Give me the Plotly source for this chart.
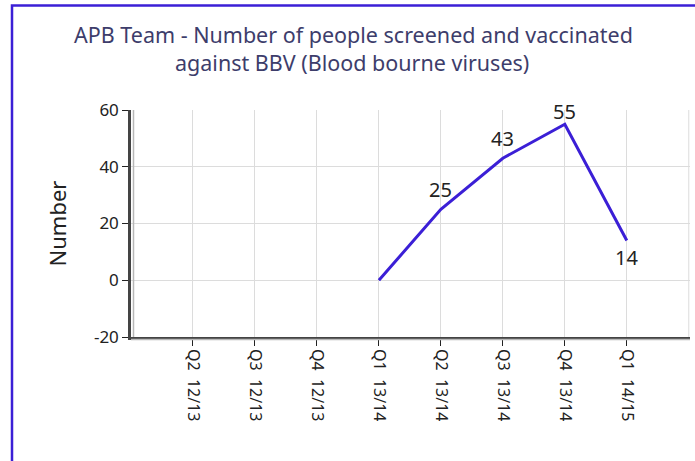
import plotly.graph_objects as go

# Quarterly counts for the APB team
quarters = ["Q2  12/13", "Q3  12/13", "Q4  12/13", "Q1  13/14",
            "Q2  13/14", "Q3  13/14", "Q4  13/14", "Q1  14/15"]
screened = [None, None, None, 0, 25, 43, 55, 14]

y_ticks = [-20, 0, 20, 40, 60]
y_tick_text = ["-20", "0", "20", "40", "60"]

# vertical offset (px) of each value label relative to its point
label_shift = [0, 0, 0, 0, 20, 20, 13, -17]

x_idx = list(range(len(quarters)))

LINE = "#3b1fd6"
TXT = "#222222"
FONT = "Noto Sans"

fig = go.Figure()
fig.add_trace(go.Scatter(
    x=x_idx, y=screened, mode="lines",
    line=dict(color=LINE, width=3),
    connectgaps=False, hoverinfo="skip", showlegend=False,
))

W, H = 695, 461
L, R, T, B = 131, 5, 110, 124
pw, ph = W - L - R, H - T - B

def px_x(p):
    return (p - L) / pw

def px_y(p):
    return 1 - (p - T) / ph

shapes = [
    # right edge of plotting area
    dict(type="line", xref="x", yref="paper", x0=8, x1=8, y0=0, y1=1,
         line=dict(color="#dcdcdc", width=1), layer="below"),
    # soft shadow under the axis lines
    dict(type="line", xref="paper", yref="paper", x0=px_x(133.5), x1=px_x(133.5),
         y0=px_y(337), y1=1, line=dict(color="#b8b8b8", width=1.5)),
    dict(type="line", xref="paper", yref="paper", x0=px_x(131), x1=1,
         y0=px_y(339.5), y1=px_y(339.5), line=dict(color="#b8b8b8", width=1.5)),
    # outer frame
    dict(type="rect", xref="paper", yref="paper",
         x0=px_x(12), x1=px_x(720), y0=px_y(490), y1=px_y(5.5),
         line=dict(color="#3b1fd6", width=2.5), fillcolor="rgba(0,0,0,0)"),
]

annotations = [
    dict(text="APB Team - Number of people screened and vaccinated",
         xref="paper", yref="paper", x=px_x(353), y=px_y(34),
         xanchor="center", yanchor="middle", showarrow=False,
         font=dict(family=FONT, size=21.5, color="#3d3d6b")),
    dict(text="against BBV (Blood bourne viruses)",
         xref="paper", yref="paper", x=px_x(352), y=px_y(63),
         xanchor="center", yanchor="middle", showarrow=False,
         font=dict(family=FONT, size=21.5, color="#3d3d6b")),
]

# value labels on the non-zero points
for xi, v, dy in zip(x_idx, screened, label_shift):
    if v is None or v == 0:
        continue
    annotations.append(dict(
        x=xi, y=v, xref="x", yref="y", text=str(v), showarrow=False,
        xanchor="center", yanchor="middle", yshift=dy,
        font=dict(family=FONT, size=20, color=TXT),
    ))

fig.update_layout(
    width=W, height=H,
    margin=dict(l=L, r=R, t=T, b=B),
    paper_bgcolor="white", plot_bgcolor="white",
    shapes=shapes, annotations=annotations,
    xaxis=dict(
        range=[-1, 8.02], tickmode="array", tickvals=x_idx, ticktext=quarters,
        tickangle=90, ticks="outside", ticklen=6, tickcolor="#222",
        tickfont=dict(family=FONT, size=16, color=TXT),
        showgrid=True, gridcolor="#dcdcdc", gridwidth=1,
        showline=True, linecolor="#444", linewidth=2.5,
        zeroline=False, fixedrange=True,
    ),
    yaxis=dict(
        range=[-20, 60], tickmode="array", tickvals=y_ticks, ticktext=y_tick_text,
        ticks="outside", ticklen=6, tickcolor="#222",
        tickfont=dict(family=FONT, size=17, color=TXT),
        showgrid=True, gridcolor="#dcdcdc", gridwidth=1,
        showline=True, linecolor="#444", linewidth=2.5,
        zeroline=False, fixedrange=True,
        title=dict(text="Number", font=dict(family=FONT, size=22, color=TXT),
                   standoff=22),
    ),
)

fig.write_html("out.html")
